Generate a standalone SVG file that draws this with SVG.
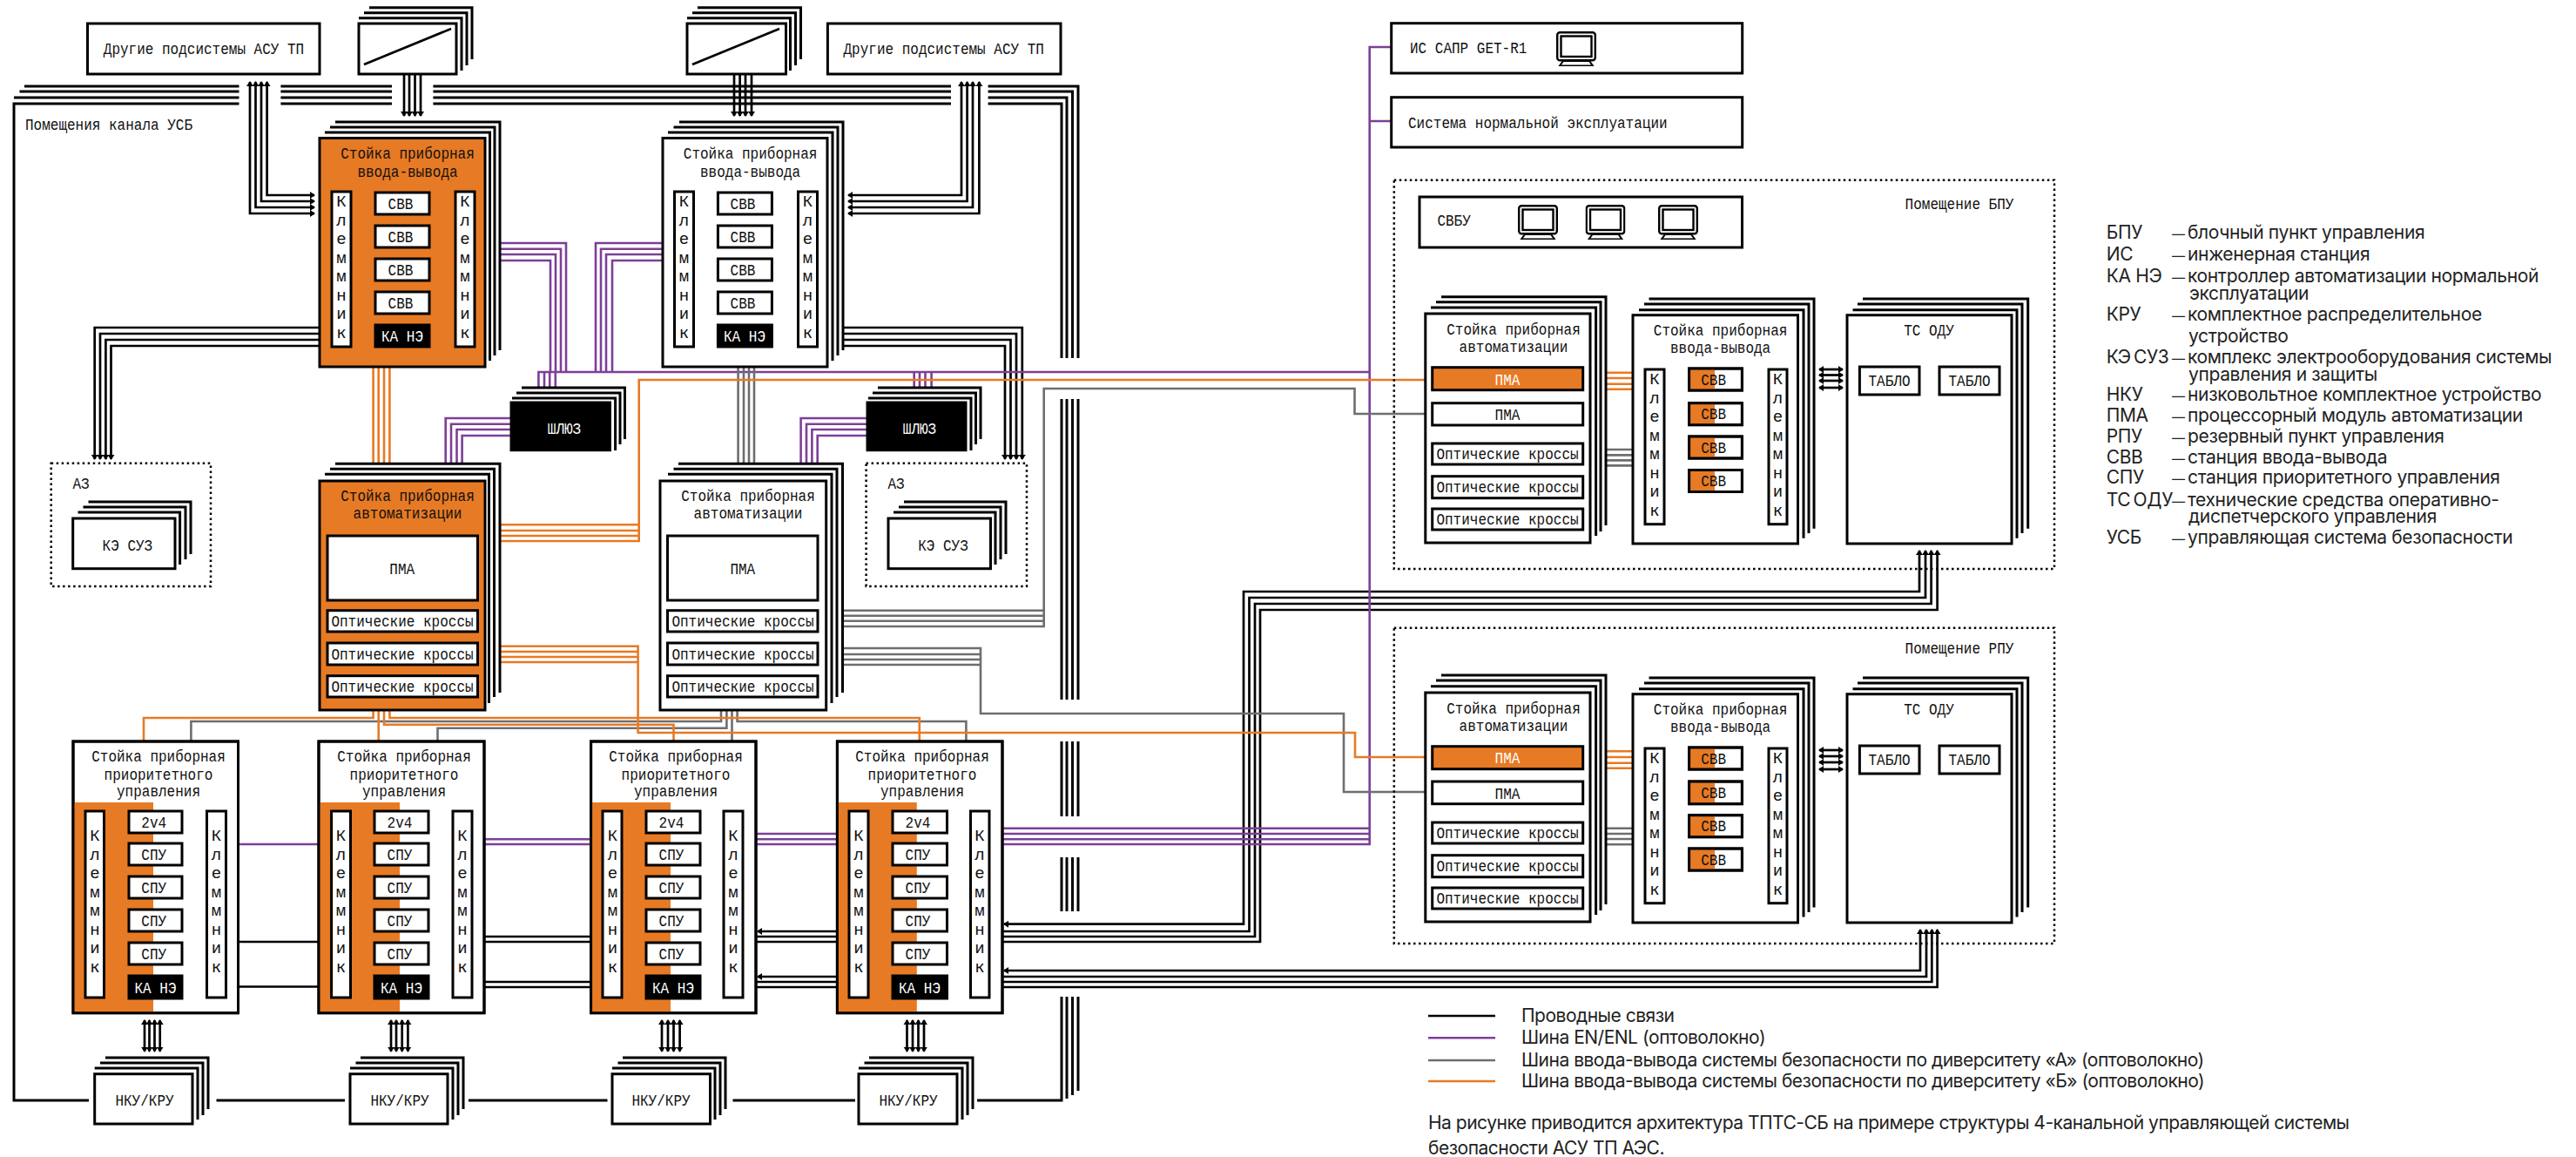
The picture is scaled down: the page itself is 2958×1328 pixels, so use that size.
<svg xmlns="http://www.w3.org/2000/svg" width="2958" height="1328" viewBox="0 0 2958 1328">
<style>
.b,.p,.g,.o,.l{fill:none}
.b{stroke:#000;stroke-width:2.7}
.l{stroke:#000;stroke-width:3}
.p{stroke:#7d3f98;stroke-width:2.6}
.g{stroke:#6d6e70;stroke-width:2.6}
.o{stroke:#e77a24;stroke-width:2.6}
.w{fill:#fff;stroke:#000;stroke-width:3}
.f{fill:#e77a24;stroke:#000;stroke-width:3}
.k{fill:#000;stroke:#000;stroke-width:3}
.n{fill:none;stroke:#000;stroke-width:3}
.h{fill:#e77a24}
.d{fill:none;stroke:#000;stroke-width:2.5;stroke-dasharray:2.5 3.5}
.t{font-family:"Liberation Mono",monospace;font-size:19px;fill:#111;text-anchor:middle}
.ts{text-anchor:start}
.i{fill:#fff}
.v{font-family:"Liberation Mono",monospace;font-size:19px;fill:#111;writing-mode:vertical-rl;text-orientation:upright;letter-spacing:-.5px;text-anchor:middle}
.s{font-family:Inter,"Liberation Sans",sans-serif;font-size:21px;fill:#222;letter-spacing:-.35px}
.a{word-spacing:-2.5px;letter-spacing:-.3px}
.m{font-size:15px}
.q{font-family:Inter,"Liberation Sans",sans-serif;font-size:21px;fill:#222;letter-spacing:-.5px}
</style>
<defs>
<marker id="a" markerUnits="userSpaceOnUse" markerWidth="8" markerHeight="9" refX="5" refY="4.5" orient="auto-start-reverse"><path d="M0 .5L6 4.5L0 8.5z" fill="#000"/></marker>
<symbol id="mon" viewBox="0 0 46 40" width="46" height="40"><rect x="1.2" y="1.2" width="43.6" height="32" rx="3" fill="#fff" stroke="#000" stroke-width="2.4"/><rect x="5.5" y="5.5" width="35" height="23.5" fill="#fff" stroke="#000" stroke-width="2.4"/><path d="M8 34H38L42 39.5H4z" fill="#fff" stroke="#000" stroke-width="2"/></symbol>
</defs>
<g id="connectors">
<g id="room-frame">
<path class="l" d="M102 1263H16V119H274.5M16 112H274.5M22.5 105H274.5M28 99H274.5M322.4 119H450M322.4 112H450M322.4 105H450M322.4 99H450M497.4 119H1092M497.4 112H1092M497.4 105H1092M497.4 99H1092"/>
<path class="l" d="M1134.6 119H1219V411M1134.6 112H1225V411M1134.6 105H1231.5V411M1134.6 99H1238V411"/>
<path class="l" d="M1219 458V803M1225 458V803M1231.5 458V803M1238 458V803M1219 851V937M1225 851V937M1231.5 851V937M1238 851V937M1219 984V1046M1225 984V1046M1231.5 984V1046M1238 984V1046"/>
<path class="l" d="M1219 1144V1263H1122M1225 1144V1261M1231.5 1144V1257M1238 1144V1252M248.5 1263H396M538 1263H697.5M841.5 1263H982"/>
</g>
<g id="wired">
<path class="b" marker-start="url(#a)" marker-end="url(#a)" d="M306.6 94V224H361"/>
<path class="b" marker-start="url(#a)" marker-end="url(#a)" d="M300 94V231H361"/>
<path class="b" marker-start="url(#a)" marker-end="url(#a)" d="M293.5 94V238H361"/>
<path class="b" marker-start="url(#a)" marker-end="url(#a)" d="M287 94V245H361"/>
<path class="b" marker-start="url(#a)" marker-end="url(#a)" d="M1104 94V224H974"/>
<path class="b" marker-start="url(#a)" marker-end="url(#a)" d="M1110.6 94V231H974"/>
<path class="b" marker-start="url(#a)" marker-end="url(#a)" d="M1117 94V238H974"/>
<path class="b" marker-start="url(#a)" marker-end="url(#a)" d="M1124.4 94V245H974"/>
<path class="b" marker-end="url(#a)" d="M464 85V133"/>
<path class="b" marker-end="url(#a)" d="M470 85V133"/>
<path class="b" marker-end="url(#a)" d="M476.5 85V133"/>
<path class="b" marker-end="url(#a)" d="M483 85V133"/>
<path class="b" marker-end="url(#a)" d="M843 85V133"/>
<path class="b" marker-end="url(#a)" d="M849.6 85V133"/>
<path class="b" marker-end="url(#a)" d="M856 85V133"/>
<path class="b" marker-end="url(#a)" d="M863 85V133"/>
<path class="b" marker-end="url(#a)" d="M367 376H108.7V527"/>
<path class="b" marker-end="url(#a)" d="M367 383H115V527"/>
<path class="b" marker-end="url(#a)" d="M367 390H121.4V527"/>
<path class="b" marker-end="url(#a)" d="M367 397H127.5V527"/>
<path class="b" marker-end="url(#a)" d="M968 376H1173.8V527"/>
<path class="b" marker-end="url(#a)" d="M968 383H1167V527"/>
<path class="b" marker-end="url(#a)" d="M968 390H1160.5V527"/>
<path class="b" marker-end="url(#a)" d="M968 397H1154V527"/>
<path class="b" d="M273.5 1081H366M273.5 1132.5H366M556 1075H678.6M556 1081H678.6M556 1127H678.6M556 1133H678.6"/>
<path class="b" marker-end="url(#a)" d="M961 1069H870"/>
<path class="b" d="M868 1075H961M868 1081H961"/>
<path class="b" marker-end="url(#a)" d="M961 1121H870"/>
<path class="b" d="M868 1127H961M868 1133H961"/>
<path class="b" marker-start="url(#a)" marker-end="url(#a)" d="M2204 632V679H1428V1060.7H1153"/>
<path class="b" marker-start="url(#a)" d="M2211 632V686H1434.5V1069H1151"/>
<path class="b" marker-start="url(#a)" d="M2217.6 632V693H1441V1075H1151"/>
<path class="b" marker-start="url(#a)" d="M2224.6 632V700H1447V1081H1151"/>
<path class="b" marker-start="url(#a)" marker-end="url(#a)" d="M2205 1067V1114H1153"/>
<path class="b" marker-start="url(#a)" d="M2212 1067V1121H1151"/>
<path class="b" marker-start="url(#a)" d="M2218.3 1067V1127H1151"/>
<path class="b" marker-start="url(#a)" d="M2224.6 1067V1133H1151"/>
<path class="b" marker-start="url(#a)" marker-end="url(#a)" d="M166 1171V1206.7"/>
<path class="b" marker-start="url(#a)" marker-end="url(#a)" d="M171.5 1171V1206.7"/>
<path class="b" marker-start="url(#a)" marker-end="url(#a)" d="M177.5 1171V1206.7"/>
<path class="b" marker-start="url(#a)" marker-end="url(#a)" d="M183.7 1171V1206.7"/>
<path class="b" marker-start="url(#a)" marker-end="url(#a)" d="M449 1171V1206.7"/>
<path class="b" marker-start="url(#a)" marker-end="url(#a)" d="M455 1171V1206.7"/>
<path class="b" marker-start="url(#a)" marker-end="url(#a)" d="M461.7 1171V1206.7"/>
<path class="b" marker-start="url(#a)" marker-end="url(#a)" d="M468.4 1171V1206.7"/>
<path class="b" marker-start="url(#a)" marker-end="url(#a)" d="M760 1171V1206.7"/>
<path class="b" marker-start="url(#a)" marker-end="url(#a)" d="M767 1171V1206.7"/>
<path class="b" marker-start="url(#a)" marker-end="url(#a)" d="M773.5 1171V1206.7"/>
<path class="b" marker-start="url(#a)" marker-end="url(#a)" d="M780.6 1171V1206.7"/>
<path class="b" marker-start="url(#a)" marker-end="url(#a)" d="M1041.5 1171V1206.7"/>
<path class="b" marker-start="url(#a)" marker-end="url(#a)" d="M1048 1171V1206.7"/>
<path class="b" marker-start="url(#a)" marker-end="url(#a)" d="M1054.5 1171V1206.7"/>
<path class="b" marker-start="url(#a)" marker-end="url(#a)" d="M1061 1171V1206.7"/>
<path class="b" marker-start="url(#a)" marker-end="url(#a)" d="M2089 424H2116"/>
<path class="b" marker-start="url(#a)" marker-end="url(#a)" d="M2089 430.5H2116"/>
<path class="b" marker-start="url(#a)" marker-end="url(#a)" d="M2089 437H2116"/>
<path class="b" marker-start="url(#a)" marker-end="url(#a)" d="M2089 445H2116"/>
<path class="b" marker-start="url(#a)" marker-end="url(#a)" d="M2089 861H2116"/>
<path class="b" marker-start="url(#a)" marker-end="url(#a)" d="M2089 868H2116"/>
<path class="b" marker-start="url(#a)" marker-end="url(#a)" d="M2089 875H2116"/>
<path class="b" marker-start="url(#a)" marker-end="url(#a)" d="M2089 883H2116"/>
</g>
<g id="bus-en">
<path class="p" d="M1597.7 54H1572.7V969H1151M1572.7 139H1597.7M1572.7 950.7H1151M1572.7 957H1151M1572.7 963.3H1151"/>
<path class="p" d="M618.4 445V427H1572.7M625 427V445M631.2 427V445M637.8 427V445M1049.7 427V445M1056 427V445M1062.5 427V445M1069.6 427V445"/>
<path class="p" d="M575 279H650V427M575 285.7H644V427M575 292H638V427M575 299H632V427M761 279H684V427M761 285.7H690V427M761 292H696V427M761 299H703V427"/>
<path class="p" d="M587 480H511.7V532M587 486.7H518V532M587 493H524.5V532M587 500H530.6V532M996 480H919.6V532M996 486.7H926V532M996 493H932.4V532M996 500H938.7V532"/>
<path class="p" d="M273.5 969H366M556 963.3H678.6M556 969H678.6M868 957H961M868 963.3H961M868 969H961"/>
</g>
<g id="bus-a">
<path class="g" d="M847.6 421V532M854 421V532M860 421V532M866 421V532"/>
<path class="g" d="M967.5 700.7H1198.7V446H1555.5V475H1645M967.5 706.7H1198.7M967.5 712.7H1198.7M967.5 719H1198.7V700"/>
<path class="g" d="M967.5 744H1126V819H1543V909H1645M967.5 751H1126M967.5 757H1126M967.5 763H1126"/>
<path class="g" d="M828 815V828H219.4V850M834.4 815V835.7H502.5V850M840.5 815V850M846.6 815V828H1109.4V850"/>
<path class="g" d="M1844 516H1875M1844 522.4H1875M1844 528.4H1875M1844 534.4H1875M1844 950.7H1875M1844 957H1875M1844 963H1875M1844 969.3H1875"/>
</g>
<g id="bus-b">
<path class="o" d="M428.6 421V532M434.7 421V532M441 421V532M447.4 421V532"/>
<path class="o" d="M575 602.3H733.7V436H1637M575 609H733.7M575 615H733.7M575 621H733.7V600"/>
<path class="o" d="M575 741.7H732.6V841H1556V869H1645M575 748H732.6M575 754H732.6M575 760H732.6"/>
<path class="o" d="M428.6 815V824H165V850M434.7 815V850M441 815V831.7H773.5V850M447.4 815V824H1055.8V850"/>
<path class="o" d="M1844 427.7H1875M1844 434H1875M1844 440.7H1875M1844 446.7H1875M1844 862.3H1875M1844 869H1875M1844 875.7H1875M1844 881.7H1875"/>
</g>
</g>

<g id="other-1"><rect class="w" x="100.5" y="27" width="266.5" height="58"/><text class="t" x="234" y="61.5" textLength="230.4" lengthAdjust="spacingAndGlyphs">Другие подсистемы АСУ ТП</text></g>
<g id="conv-1"><path class="l" d="M412 20.7H530V81M418 14.7H536V75M424 8.7H542V68"/><rect class="w" x="412" y="27" width="112" height="58"/><path class="b" d="M418 74L518 33"/></g>
<g id="conv-2"><path class="l" d="M789 20.7H907.5V81M795 14.7H913.5V75M801 8.7H919.5V68"/><rect class="w" x="789" y="27" width="113.5" height="58"/><path class="b" d="M795 74L895 33"/></g>
<g id="other-2"><rect class="w" x="950.4" y="27" width="267.6" height="58"/><text class="t" x="1083.7" y="61.5" textLength="230.4" lengthAdjust="spacingAndGlyphs">Другие подсистемы АСУ ТП</text></g>
<text class="t ts" x="29" y="148.5" textLength="192" lengthAdjust="spacingAndGlyphs">Помещения канала УСБ</text>

<g id="rack-io-1">
<path class="l" d="M373 152H562.5V414M379 146H568V408M385 140H574V402"/>
<rect class="f" x="367" y="158.5" width="190" height="262.5"/>
<text class="t" x="468" y="182" textLength="153.6" lengthAdjust="spacingAndGlyphs">Стойка приборная</text><text class="t" x="468" y="203" textLength="115.2" lengthAdjust="spacingAndGlyphs">ввода-вывода</text>
<rect class="w" x="381" y="220" width="22" height="178"/><text class="v" x="392" y="307">Клеммник</text>
<rect class="w" x="523" y="220" width="22" height="178"/><text class="v" x="534" y="307">Клеммник</text>
<rect class="w" x="431" y="221" width="62" height="25"/><text class="t" x="460" y="239.5" textLength="28.8" lengthAdjust="spacingAndGlyphs">СВВ</text>
<rect class="w" x="431" y="259" width="62" height="25"/><text class="t" x="460" y="277.5" textLength="28.8" lengthAdjust="spacingAndGlyphs">СВВ</text>
<rect class="w" x="431" y="297" width="62" height="25"/><text class="t" x="460" y="315.5" textLength="28.8" lengthAdjust="spacingAndGlyphs">СВВ</text>
<rect class="w" x="431" y="335" width="62" height="25"/><text class="t" x="460" y="353.5" textLength="28.8" lengthAdjust="spacingAndGlyphs">СВВ</text>
<rect class="k" x="431" y="373" width="62" height="25"/><text class="t i" x="462" y="392" textLength="48" lengthAdjust="spacingAndGlyphs">КА НЭ</text>
</g>
<g id="rack-io-2">
<path class="l" d="M767 152H956V414M773.5 146H962V408M780 140H968V402"/>
<rect class="w" x="761" y="158.5" width="189" height="262.5"/>
<text class="t" x="861.6" y="182" textLength="153.6" lengthAdjust="spacingAndGlyphs">Стойка приборная</text><text class="t" x="861.6" y="203" textLength="115.2" lengthAdjust="spacingAndGlyphs">ввода-вывода</text>
<rect class="w" x="774.5" y="220" width="22" height="178"/><text class="v" x="785.5" y="307">Клеммник</text>
<rect class="w" x="916.5" y="220" width="22" height="178"/><text class="v" x="927.5" y="307">Клеммник</text>
<rect class="w" x="824.4" y="221" width="62" height="25"/><text class="t" x="853" y="239.5" textLength="28.8" lengthAdjust="spacingAndGlyphs">СВВ</text>
<rect class="w" x="824.4" y="259" width="62" height="25"/><text class="t" x="853" y="277.5" textLength="28.8" lengthAdjust="spacingAndGlyphs">СВВ</text>
<rect class="w" x="824.4" y="297" width="62" height="25"/><text class="t" x="853" y="315.5" textLength="28.8" lengthAdjust="spacingAndGlyphs">СВВ</text>
<rect class="w" x="824.4" y="335" width="62" height="25"/><text class="t" x="853" y="353.5" textLength="28.8" lengthAdjust="spacingAndGlyphs">СВВ</text>
<rect class="k" x="824.4" y="373" width="62" height="25"/><text class="t i" x="855" y="392" textLength="48" lengthAdjust="spacingAndGlyphs">КА НЭ</text>
</g>
<g id="gateway-1"><path class="l" d="M588 457H706.6V517M593 451H712V510M599 445H717.5V504"/><rect class="k" x="587" y="462" width="113.5" height="54.7"/><text class="t i" x="648" y="498" textLength="38.4" lengthAdjust="spacingAndGlyphs">ШЛЮЗ</text></g>
<g id="gateway-2"><path class="l" d="M997 457H1115V517M1002 451H1120.5V510M1008 445H1126V504"/><rect class="k" x="996" y="462" width="113" height="54.7"/><text class="t i" x="1056" y="498" textLength="38.4" lengthAdjust="spacingAndGlyphs">ШЛЮЗ</text></g>

<g id="az-1"><rect class="d" x="58.7" y="531.7" width="183.3" height="141.3"/><text class="t" x="93" y="560.5" textLength="19.2" lengthAdjust="spacingAndGlyphs">АЗ</text>
<path class="l" d="M89.5 588H206.6V648M95.5 582H213V642M101.5 576H219V636"/><rect class="w" x="83.7" y="595" width="117.3" height="57.7"/><text class="t" x="146.4" y="632" textLength="57.6" lengthAdjust="spacingAndGlyphs">КЭ СУЗ</text></g>
<g id="az-2"><rect class="d" x="994.6" y="531.7" width="184.4" height="141.3"/><text class="t" x="1029" y="560.5" textLength="19.2" lengthAdjust="spacingAndGlyphs">АЗ</text>
<path class="l" d="M1026 588H1143V648M1032 582H1149V642M1038 576H1155V636"/><rect class="w" x="1020" y="595" width="117.5" height="57.7"/><text class="t" x="1083" y="632" textLength="57.6" lengthAdjust="spacingAndGlyphs">КЭ СУЗ</text></g>

<g id="rack-auto-1">
<path class="l" d="M373 544.3H561.5V807M379 538.3H567.5V800M385 532.3H574V795"/>
<rect class="f" x="367" y="552" width="190" height="263"/>
<text class="t" x="468" y="575" textLength="153.6" lengthAdjust="spacingAndGlyphs">Стойка приборная</text><text class="t" x="468" y="595" textLength="124.8" lengthAdjust="spacingAndGlyphs">автоматизации</text>
<rect class="w" x="376" y="615" width="172.5" height="74"/><text class="t" x="461.7" y="658.5" textLength="28.8" lengthAdjust="spacingAndGlyphs">ПМА</text>
<rect class="w" x="376" y="700.7" width="172.5" height="24.3"/><text class="t" x="462" y="718.5" textLength="163.2" lengthAdjust="spacingAndGlyphs">Оптические кроссы</text>
<rect class="w" x="376" y="738" width="172.5" height="25"/><text class="t" x="462" y="756.5" textLength="163.2" lengthAdjust="spacingAndGlyphs">Оптические кроссы</text>
<rect class="w" x="376" y="775.7" width="172.5" height="24.3"/><text class="t" x="462" y="793.5" textLength="163.2" lengthAdjust="spacingAndGlyphs">Оптические кроссы</text>
</g>
<g id="rack-auto-2">
<path class="l" d="M767 544.3H955V807M773.5 538.3H961V800M779 532.3H967.5V795"/>
<rect class="w" x="758" y="552" width="190.7" height="263"/>
<text class="t" x="859" y="575" textLength="153.6" lengthAdjust="spacingAndGlyphs">Стойка приборная</text><text class="t" x="859" y="595" textLength="124.8" lengthAdjust="spacingAndGlyphs">автоматизации</text>
<rect class="w" x="766.5" y="615" width="172.5" height="74"/><text class="t" x="852.8" y="658.5" textLength="28.8" lengthAdjust="spacingAndGlyphs">ПМА</text>
<rect class="w" x="766.5" y="700.7" width="172.5" height="24.3"/><text class="t" x="853" y="718.5" textLength="163.2" lengthAdjust="spacingAndGlyphs">Оптические кроссы</text>
<rect class="w" x="766.5" y="738" width="172.5" height="25"/><text class="t" x="853" y="756.5" textLength="163.2" lengthAdjust="spacingAndGlyphs">Оптические кроссы</text>
<rect class="w" x="766.5" y="775.7" width="172.5" height="24.3"/><text class="t" x="853" y="793.5" textLength="163.2" lengthAdjust="spacingAndGlyphs">Оптические кроссы</text>
</g>

<g id="rack-prio-1">
<rect class="w" x="84" y="851" width="189.5" height="311.7"/><rect class="h" x="84" y="921" width="92" height="241.7"/><rect class="n" x="84" y="851" width="189.5" height="311.7"/>
<text class="t" x="182" y="874" textLength="153.6" lengthAdjust="spacingAndGlyphs">Стойка приборная</text><text class="t" x="182" y="894.5" textLength="124.8" lengthAdjust="spacingAndGlyphs">приоритетного</text><text class="t" x="182" y="913.5" textLength="96" lengthAdjust="spacingAndGlyphs">управления</text>
<rect class="w" x="98" y="931" width="21.5" height="214"/><text class="v" x="109" y="1035">Клеммник</text>
<rect class="w" x="237.5" y="931" width="22" height="214"/><text class="v" x="248.5" y="1035">Клеммник</text>
<rect class="w" x="148" y="931" width="61" height="25"/><text class="t" x="176.7" y="949.5" textLength="28.8" lengthAdjust="spacingAndGlyphs">2v4</text>
<rect class="w" x="148" y="968" width="61" height="25"/><text class="t" x="176.7" y="986.5" textLength="28.8" lengthAdjust="spacingAndGlyphs">СПУ</text>
<rect class="w" x="148" y="1006" width="61" height="25"/><text class="t" x="176.7" y="1024.5" textLength="28.8" lengthAdjust="spacingAndGlyphs">СПУ</text>
<rect class="w" x="148" y="1044" width="61" height="25"/><text class="t" x="176.7" y="1062.5" textLength="28.8" lengthAdjust="spacingAndGlyphs">СПУ</text>
<rect class="w" x="148" y="1082" width="61" height="25"/><text class="t" x="176.7" y="1100.5" textLength="28.8" lengthAdjust="spacingAndGlyphs">СПУ</text>
<rect class="k" x="148" y="1120" width="61" height="26"/><text class="t i" x="178.5" y="1139.5" textLength="48" lengthAdjust="spacingAndGlyphs">КА НЭ</text>
</g>
<g id="rack-prio-2">
<rect class="w" x="366" y="851" width="190" height="311.7"/><rect class="h" x="366" y="921" width="93" height="241.7"/><rect class="n" x="366" y="851" width="190" height="311.7"/>
<text class="t" x="464" y="874" textLength="153.6" lengthAdjust="spacingAndGlyphs">Стойка приборная</text><text class="t" x="464" y="894.5" textLength="124.8" lengthAdjust="spacingAndGlyphs">приоритетного</text><text class="t" x="464" y="913.5" textLength="96" lengthAdjust="spacingAndGlyphs">управления</text>
<rect class="w" x="380.6" y="931" width="21.9" height="214"/><text class="v" x="391.5" y="1035">Клеммник</text>
<rect class="w" x="520" y="931" width="22" height="214"/><text class="v" x="531" y="1035">Клеммник</text>
<rect class="w" x="430" y="931" width="62" height="25"/><text class="t" x="459" y="949.5" textLength="28.8" lengthAdjust="spacingAndGlyphs">2v4</text>
<rect class="w" x="430" y="968" width="62" height="25"/><text class="t" x="459" y="986.5" textLength="28.8" lengthAdjust="spacingAndGlyphs">СПУ</text>
<rect class="w" x="430" y="1006" width="62" height="25"/><text class="t" x="459" y="1024.5" textLength="28.8" lengthAdjust="spacingAndGlyphs">СПУ</text>
<rect class="w" x="430" y="1044" width="62" height="25"/><text class="t" x="459" y="1062.5" textLength="28.8" lengthAdjust="spacingAndGlyphs">СПУ</text>
<rect class="w" x="430" y="1082" width="62" height="25"/><text class="t" x="459" y="1100.5" textLength="28.8" lengthAdjust="spacingAndGlyphs">СПУ</text>
<rect class="k" x="430" y="1120" width="62" height="26"/><text class="t i" x="461" y="1139.5" textLength="48" lengthAdjust="spacingAndGlyphs">КА НЭ</text>
</g>
<g id="rack-prio-3">
<rect class="w" x="678.6" y="851" width="189.4" height="311.7"/><rect class="h" x="678.6" y="921" width="91.4" height="241.7"/><rect class="n" x="678.6" y="851" width="189.4" height="311.7"/>
<text class="t" x="776" y="874" textLength="153.6" lengthAdjust="spacingAndGlyphs">Стойка приборная</text><text class="t" x="776" y="894.5" textLength="124.8" lengthAdjust="spacingAndGlyphs">приоритетного</text><text class="t" x="776" y="913.5" textLength="96" lengthAdjust="spacingAndGlyphs">управления</text>
<rect class="w" x="692" y="931" width="22" height="214"/><text class="v" x="703.5" y="1035">Клеммник</text>
<rect class="w" x="831" y="931" width="22" height="214"/><text class="v" x="842" y="1035">Клеммник</text>
<rect class="w" x="742" y="931" width="62" height="25"/><text class="t" x="771" y="949.5" textLength="28.8" lengthAdjust="spacingAndGlyphs">2v4</text>
<rect class="w" x="742" y="968" width="62" height="25"/><text class="t" x="771" y="986.5" textLength="28.8" lengthAdjust="spacingAndGlyphs">СПУ</text>
<rect class="w" x="742" y="1006" width="62" height="25"/><text class="t" x="771" y="1024.5" textLength="28.8" lengthAdjust="spacingAndGlyphs">СПУ</text>
<rect class="w" x="742" y="1044" width="62" height="25"/><text class="t" x="771" y="1062.5" textLength="28.8" lengthAdjust="spacingAndGlyphs">СПУ</text>
<rect class="w" x="742" y="1082" width="62" height="25"/><text class="t" x="771" y="1100.5" textLength="28.8" lengthAdjust="spacingAndGlyphs">СПУ</text>
<rect class="k" x="742" y="1120" width="62" height="26"/><text class="t i" x="773" y="1139.5" textLength="48" lengthAdjust="spacingAndGlyphs">КА НЭ</text>
</g>
<g id="rack-prio-4">
<rect class="w" x="961.4" y="851" width="189.6" height="311.7"/><rect class="h" x="961.4" y="921" width="91.4" height="241.7"/><rect class="n" x="961.4" y="851" width="189.6" height="311.7"/>
<text class="t" x="1059" y="874" textLength="153.6" lengthAdjust="spacingAndGlyphs">Стойка приборная</text><text class="t" x="1059" y="894.5" textLength="124.8" lengthAdjust="spacingAndGlyphs">приоритетного</text><text class="t" x="1059" y="913.5" textLength="96" lengthAdjust="spacingAndGlyphs">управления</text>
<rect class="w" x="975" y="931" width="22" height="214"/><text class="v" x="986" y="1035">Клеммник</text>
<rect class="w" x="1114.5" y="931" width="21.5" height="214"/><text class="v" x="1125" y="1035">Клеммник</text>
<rect class="w" x="1025" y="931" width="62.5" height="25"/><text class="t" x="1054" y="949.5" textLength="28.8" lengthAdjust="spacingAndGlyphs">2v4</text>
<rect class="w" x="1025" y="968" width="62.5" height="25"/><text class="t" x="1054" y="986.5" textLength="28.8" lengthAdjust="spacingAndGlyphs">СПУ</text>
<rect class="w" x="1025" y="1006" width="62.5" height="25"/><text class="t" x="1054" y="1024.5" textLength="28.8" lengthAdjust="spacingAndGlyphs">СПУ</text>
<rect class="w" x="1025" y="1044" width="62.5" height="25"/><text class="t" x="1054" y="1062.5" textLength="28.8" lengthAdjust="spacingAndGlyphs">СПУ</text>
<rect class="w" x="1025" y="1082" width="62.5" height="25"/><text class="t" x="1054" y="1100.5" textLength="28.8" lengthAdjust="spacingAndGlyphs">СПУ</text>
<rect class="k" x="1025" y="1120" width="62.5" height="26"/><text class="t i" x="1056" y="1139.5" textLength="48" lengthAdjust="spacingAndGlyphs">КА НЭ</text>
</g>

<g id="nku-1"><path class="l" d="M108.7 1226H227V1285M115 1220H233V1280M121 1214H239V1273"/><rect class="w" x="108.7" y="1232.7" width="112.3" height="57.3"/><text class="t" x="166" y="1268.5" textLength="67.2" lengthAdjust="spacingAndGlyphs">НКУ/КРУ</text></g>
<g id="nku-2"><path class="l" d="M402 1226H520V1285M408.5 1220H526V1280M414 1214H532V1273"/><rect class="w" x="402" y="1232.7" width="112" height="57.3"/><text class="t" x="459" y="1268.5" textLength="67.2" lengthAdjust="spacingAndGlyphs">НКУ/КРУ</text></g>
<g id="nku-3"><path class="l" d="M703 1226H821V1285M709.5 1220H827V1280M715 1214H833V1273"/><rect class="w" x="703" y="1232.7" width="112.5" height="57.3"/><text class="t" x="759" y="1268.5" textLength="67.2" lengthAdjust="spacingAndGlyphs">НКУ/КРУ</text></g>
<g id="nku-4"><path class="l" d="M986 1226H1105V1285M992.5 1220H1111V1280M998 1214H1117V1273"/><rect class="w" x="986" y="1232.7" width="113" height="57.3"/><text class="t" x="1043" y="1268.5" textLength="67.2" lengthAdjust="spacingAndGlyphs">НКУ/КРУ</text></g>

<g id="is-sapr"><rect class="w" x="1597.7" y="26.7" width="403" height="57.3"/><text class="t ts" x="1619" y="61" textLength="134.4" lengthAdjust="spacingAndGlyphs">ИС САПР GET-R1</text><use href="#mon" x="1787" y="36"/></g>
<g id="sne"><rect class="w" x="1597.7" y="111.7" width="403" height="57.3"/><text class="t ts" x="1617" y="146.5" textLength="297.6" lengthAdjust="spacingAndGlyphs">Система нормальной эксплуатации</text></g>

<g id="room-bpu">
<rect class="d" x="1600.8" y="206.7" width="758.2" height="446.3"/><text class="t" x="2250" y="240" textLength="124.8" lengthAdjust="spacingAndGlyphs">Помещение БПУ</text>
<rect class="w" x="1630" y="226" width="370.5" height="58"/><text class="t" x="1669.6" y="259" textLength="38.4" lengthAdjust="spacingAndGlyphs">СВБУ</text>
<use href="#mon" x="1743" y="235"/><use href="#mon" x="1820.5" y="235"/><use href="#mon" x="1904" y="235"/>
</g>
<g id="bpu-auto">
<path class="l" d="M1643 353H1832.6V615M1649 346.7H1838V610M1655 340.7H1844V603"/>
<rect class="w" x="1636.8" y="360" width="189.2" height="263"/>
<text class="t" x="1738" y="384" textLength="153.6" lengthAdjust="spacingAndGlyphs">Стойка приборная</text><text class="t" x="1738" y="404" textLength="124.8" lengthAdjust="spacingAndGlyphs">автоматизации</text>
<rect class="f" x="1644.7" y="421.7" width="173" height="26"/><text class="t i" x="1731" y="441.5" textLength="28.8" lengthAdjust="spacingAndGlyphs">ПМА</text>
<rect class="w" x="1644.7" y="462.7" width="173" height="25.3"/><text class="t" x="1731" y="481.5" textLength="28.8" lengthAdjust="spacingAndGlyphs">ПМА</text>
<rect class="w" x="1644.7" y="509" width="173" height="24"/><text class="t" x="1731" y="527" textLength="163.2" lengthAdjust="spacingAndGlyphs">Оптические кроссы</text>
<rect class="w" x="1644.7" y="546.7" width="173" height="25"/><text class="t" x="1731" y="565" textLength="163.2" lengthAdjust="spacingAndGlyphs">Оптические кроссы</text>
<rect class="w" x="1644.7" y="584" width="173" height="24"/><text class="t" x="1731" y="602" textLength="163.2" lengthAdjust="spacingAndGlyphs">Оптические кроссы</text>
</g>
<g id="bpu-io">
<path class="l" d="M1882 355.7H2071V617.7M1888 349H2077V612M1893.5 343H2083V606.7"/>
<rect class="w" x="1875" y="361.7" width="189.5" height="262.3"/>
<text class="t" x="1975.6" y="385" textLength="153.6" lengthAdjust="spacingAndGlyphs">Стойка приборная</text><text class="t" x="1975.6" y="405" textLength="115.2" lengthAdjust="spacingAndGlyphs">ввода-вывода</text>
<rect class="w" x="1889" y="424" width="22" height="177.7"/><text class="v" x="1900" y="511">Клеммник</text>
<rect class="w" x="2031" y="424" width="21" height="177.7"/><text class="v" x="2041.5" y="511">Клеммник</text>
<rect class="w" x="1939.6" y="423" width="60.8" height="25"/><rect class="h" x="1939.6" y="423" width="29.4" height="25"/><rect class="n" x="1939.6" y="423" width="60.8" height="25"/><text class="t" x="1967.6" y="441.5" textLength="28.8" lengthAdjust="spacingAndGlyphs">СВВ</text>
<rect class="w" x="1939.6" y="462.7" width="60.8" height="25"/><rect class="h" x="1939.6" y="462.7" width="29.4" height="25"/><rect class="n" x="1939.6" y="462.7" width="60.8" height="25"/><text class="t" x="1967.6" y="481" textLength="28.8" lengthAdjust="spacingAndGlyphs">СВВ</text>
<rect class="w" x="1939.6" y="501" width="60.8" height="25"/><rect class="h" x="1939.6" y="501" width="29.4" height="25"/><rect class="n" x="1939.6" y="501" width="60.8" height="25"/><text class="t" x="1967.6" y="519.5" textLength="28.8" lengthAdjust="spacingAndGlyphs">СВВ</text>
<rect class="w" x="1939.6" y="539.5" width="60.8" height="25"/><rect class="h" x="1939.6" y="539.5" width="29.4" height="25"/><rect class="n" x="1939.6" y="539.5" width="60.8" height="25"/><text class="t" x="1967.6" y="558" textLength="28.8" lengthAdjust="spacingAndGlyphs">СВВ</text>
</g>
<g id="bpu-ts">
<path class="l" d="M2127.5 355.7H2316V617.7M2133 349H2322V612M2139 343H2328.7V606.7"/>
<rect class="w" x="2121" y="361.7" width="189" height="262.3"/>
<text class="t" x="2215" y="385" textLength="57.6" lengthAdjust="spacingAndGlyphs">ТС ОДУ</text>
<rect class="w" x="2135.4" y="421" width="68.6" height="32"/><text class="t" x="2169.5" y="443" textLength="48" lengthAdjust="spacingAndGlyphs">ТАБЛО</text>
<rect class="w" x="2227" y="421" width="69" height="32"/><text class="t" x="2261.5" y="443" textLength="48" lengthAdjust="spacingAndGlyphs">ТАБЛО</text>
</g>

<g id="room-rpu"><rect class="d" x="1600.8" y="720.7" width="758.2" height="362.3"/><text class="t" x="2250" y="750" textLength="124.8" lengthAdjust="spacingAndGlyphs">Помещение РПУ</text></g>
<g id="rpu-auto">
<path class="l" d="M1643 787.7H1832.6V1050M1649 781H1838V1045M1655 775H1844V1038"/>
<rect class="w" x="1636.8" y="795" width="189.2" height="263"/>
<text class="t" x="1738" y="818.5" textLength="153.6" lengthAdjust="spacingAndGlyphs">Стойка приборная</text><text class="t" x="1738" y="838.5" textLength="124.8" lengthAdjust="spacingAndGlyphs">автоматизации</text>
<rect class="f" x="1644.7" y="856.7" width="173" height="26"/><text class="t i" x="1731" y="876" textLength="28.8" lengthAdjust="spacingAndGlyphs">ПМА</text>
<rect class="w" x="1644.7" y="897" width="173" height="25.7"/><text class="t" x="1731" y="916.5" textLength="28.8" lengthAdjust="spacingAndGlyphs">ПМА</text>
<rect class="w" x="1644.7" y="944" width="173" height="24"/><text class="t" x="1731" y="962" textLength="163.2" lengthAdjust="spacingAndGlyphs">Оптические кроссы</text>
<rect class="w" x="1644.7" y="981.7" width="173" height="25"/><text class="t" x="1731" y="1000" textLength="163.2" lengthAdjust="spacingAndGlyphs">Оптические кроссы</text>
<rect class="w" x="1644.7" y="1019" width="173" height="24"/><text class="t" x="1731" y="1037" textLength="163.2" lengthAdjust="spacingAndGlyphs">Оптические кроссы</text>
</g>
<g id="rpu-io">
<path class="l" d="M1882 790.7H2071V1052.5M1888 784H2077V1047M1893.5 778H2083V1041.5"/>
<rect class="w" x="1875" y="796.7" width="189.5" height="262.3"/>
<text class="t" x="1975.6" y="820" textLength="153.6" lengthAdjust="spacingAndGlyphs">Стойка приборная</text><text class="t" x="1975.6" y="840" textLength="115.2" lengthAdjust="spacingAndGlyphs">ввода-вывода</text>
<rect class="w" x="1889" y="859" width="22" height="177.7"/><text class="v" x="1900" y="946">Клеммник</text>
<rect class="w" x="2031" y="859" width="21" height="177.7"/><text class="v" x="2041.5" y="946">Клеммник</text>
<rect class="w" x="1939.6" y="858" width="60.8" height="25"/><rect class="h" x="1939.6" y="858" width="29.4" height="25"/><rect class="n" x="1939.6" y="858" width="60.8" height="25"/><text class="t" x="1967.6" y="876.5" textLength="28.8" lengthAdjust="spacingAndGlyphs">СВВ</text>
<rect class="w" x="1939.6" y="897" width="60.8" height="25.7"/><rect class="h" x="1939.6" y="897" width="29.4" height="25.7"/><rect class="n" x="1939.6" y="897" width="60.8" height="25.7"/><text class="t" x="1967.6" y="916" textLength="28.8" lengthAdjust="spacingAndGlyphs">СВВ</text>
<rect class="w" x="1939.6" y="935.7" width="60.8" height="25"/><rect class="h" x="1939.6" y="935.7" width="29.4" height="25"/><rect class="n" x="1939.6" y="935.7" width="60.8" height="25"/><text class="t" x="1967.6" y="954" textLength="28.8" lengthAdjust="spacingAndGlyphs">СВВ</text>
<rect class="w" x="1939.6" y="974" width="60.8" height="25"/><rect class="h" x="1939.6" y="974" width="29.4" height="25"/><rect class="n" x="1939.6" y="974" width="60.8" height="25"/><text class="t" x="1967.6" y="992.5" textLength="28.8" lengthAdjust="spacingAndGlyphs">СВВ</text>
</g>
<g id="rpu-ts">
<path class="l" d="M2127.5 790.7H2316V1052.5M2133 784H2322V1047M2139 778H2328.7V1041.5"/>
<rect class="w" x="2121" y="796.7" width="189" height="262.3"/>
<text class="t" x="2215" y="820" textLength="57.6" lengthAdjust="spacingAndGlyphs">ТС ОДУ</text>
<rect class="w" x="2135.4" y="856" width="68.6" height="32"/><text class="t" x="2169.5" y="878" textLength="48" lengthAdjust="spacingAndGlyphs">ТАБЛО</text>
<rect class="w" x="2227" y="856" width="69" height="32"/><text class="t" x="2261.5" y="878" textLength="48" lengthAdjust="spacingAndGlyphs">ТАБЛО</text>
</g>

<g id="legend">
<path class="b" d="M1640 1166H1717"/><path class="p" d="M1640 1191.3H1717"/><path class="g" d="M1640 1217H1717"/><path class="o" d="M1640 1241H1717"/>
<text class="q" x="1747" y="1172.5">Проводные связи</text>
<text class="q" x="1747" y="1197.5">Шина EN/ENL (оптоволокно)</text>
<text class="q" x="1747" y="1223.5">Шина ввода-вывода системы безопасности по диверситету «А» (оптоволокно)</text>
<text class="q" x="1747" y="1247.5">Шина ввода-вывода системы безопасности по диверситету «Б» (оптоволокно)</text>
<text class="q" x="1640" y="1295.5">На рисунке приводится архитектура ТПТС-СБ на примере структуры 4-канальной управляющей системы</text>
<text class="q" x="1640" y="1324.5">безопасности АСУ ТП АЭС.</text>
</g>
<g id="glossary">
<text class="s" y="274"><tspan x="2418.7">БПУ</tspan><tspan class="m" x="2494">—</tspan><tspan x="2512">блочный пункт управления</tspan></text>
<text class="s" y="299"><tspan x="2418.7">ИС</tspan><tspan class="m" x="2494">—</tspan><tspan x="2512">инженерная станция</tspan></text>
<text class="s" y="323.5"><tspan x="2418.7">КА НЭ</tspan><tspan class="m" x="2494">—</tspan><tspan x="2512">контроллер автоматизации нормальной</tspan></text>
<text class="s" x="2514" y="344">эксплуатации</text>
<text class="s" y="367.5"><tspan x="2418.7">КРУ</tspan><tspan class="m" x="2494">—</tspan><tspan x="2512">комплектное распределительное</tspan></text>
<text class="s" x="2513" y="392.5">устройство</text>
<text class="s" y="416.5"><tspan class="a" x="2418.7">КЭ СУЗ</tspan><tspan class="m" x="2494">—</tspan><tspan x="2512">комплекс электрооборудования системы</tspan></text>
<text class="s" x="2513" y="436.5">управления и защиты</text>
<text class="s" y="459.5"><tspan x="2418.7">НКУ</tspan><tspan class="m" x="2494">—</tspan><tspan x="2512">низковольтное комплектное устройство</tspan></text>
<text class="s" y="483.5"><tspan x="2418.7">ПМА</tspan><tspan class="m" x="2494">—</tspan><tspan x="2512">процессорный модуль автоматизации</tspan></text>
<text class="s" y="507.5"><tspan x="2418.7">РПУ</tspan><tspan class="m" x="2494">—</tspan><tspan x="2512">резервный пункт управления</tspan></text>
<text class="s" y="531.5"><tspan x="2418.7">СВВ</tspan><tspan class="m" x="2494">—</tspan><tspan x="2512">станция ввода-вывода</tspan></text>
<text class="s" y="554.5"><tspan x="2418.7">СПУ</tspan><tspan class="m" x="2494">—</tspan><tspan x="2512">станция приоритетного управления</tspan></text>
<text class="s" y="580.5"><tspan class="a" x="2418.7">ТС ОДУ</tspan><tspan class="m" x="2494">—</tspan><tspan x="2512">технические средства оперативно-</tspan></text>
<text class="s" x="2513" y="600">диспетчерского управления</text>
<text class="s" y="623.5"><tspan x="2418.7">УСБ</tspan><tspan class="m" x="2494">—</tspan><tspan x="2512">управляющая система безопасности</tspan></text>
</g>
</svg>
